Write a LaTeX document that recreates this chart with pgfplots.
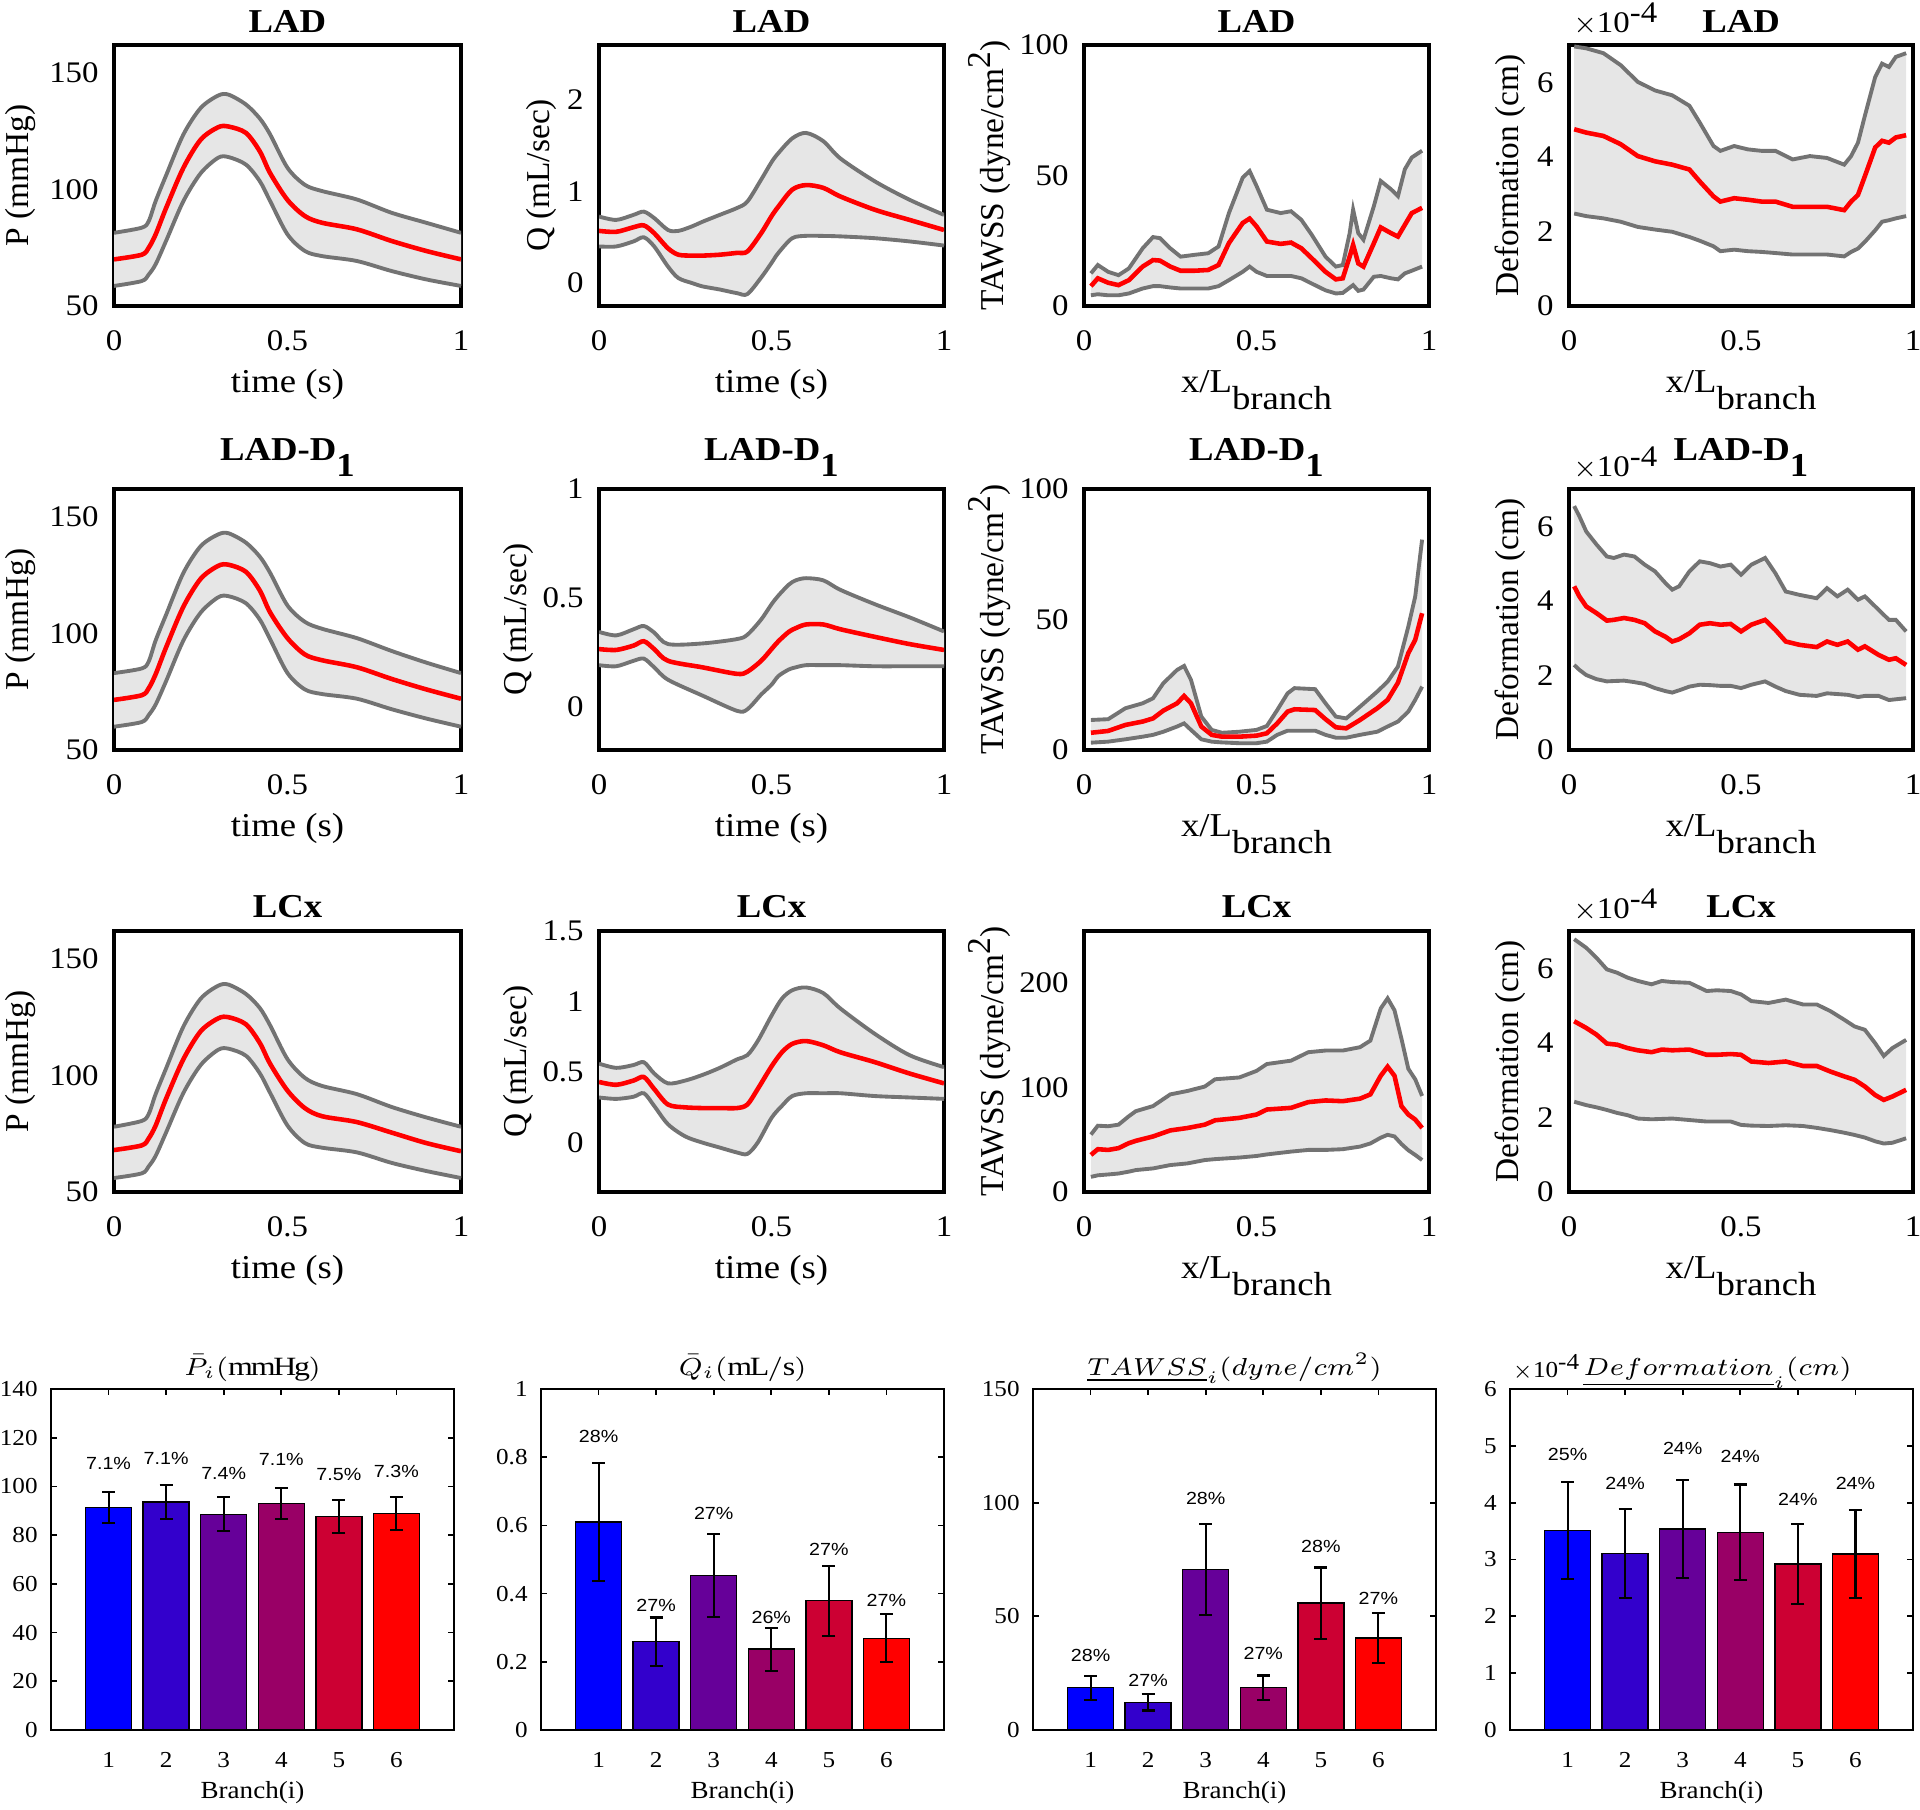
\documentclass[border=0pt]{standalone}
\usepackage{pgfplots}
\pgfplotsset{compat=1.18}
\usepackage{pgfplotstable}
\usepgfplotslibrary{fillbetween}
\usepackage{fontspec}
\setmainfont{Liberation Serif}[FakeStretch=1.1]
\newfontfamily\ylfont{Liberation Serif}
\newfontfamily\pctfont{Liberation Sans}[FakeStretch=1.12]

\definecolor{bandfill}{RGB}{230,230,230}
\definecolor{bandline}{RGB}{115,115,115}
\definecolor{cA}{RGB}{0,0,255}
\definecolor{cB}{RGB}{51,0,204}
\definecolor{cC}{RGB}{102,0,153}
\definecolor{cD}{RGB}{153,0,102}
\definecolor{cE}{RGB}{204,0,51}
\definecolor{cF}{RGB}{255,0,0}

% ---------------- Pressure ----------------
\pgfplotstableread{
x u m l
0 81.4 70 58.6
0.08 83.6 72 60.7
0.1 86.4 75 63.5
0.12 95 80.7 67.9
0.15 106 92 77.9
0.2 123.6 109.3 95
0.25 135 121.4 107
0.3 140.3 126.7 113.6
0.33 140.7 127 113.9
0.38 136.5 124.3 110.7
0.42 130.5 116.4 103.6
0.45 123.6 107 95
0.5 109.3 95.5 80.7
0.55 102 88.6 73.6
0.6 99.3 85.7 71.4
0.7 95.7 82.9 69.3
0.8 90 77.9 65
0.9 85.7 73.6 61.4
1 81.4 70 58.6
}\tPa
\pgfplotstableread{
x u m l
0 83 71.5 60
0.08 85 73.5 62
0.1 88 76.5 65
0.12 97 82.5 69.5
0.15 108 94 79.5
0.2 126 111.5 97
0.25 137.5 123.5 109
0.3 142.5 129 115.5
0.33 143 129.5 116
0.38 139 126.5 113
0.42 133 118.5 106
0.45 126 109 97.5
0.5 112 98 83
0.55 105 91 76
0.6 102 88.5 74
0.7 98 85.5 72
0.8 92.5 80.5 67.5
0.9 87.5 76 63.5
1 83 72 60
}\tPb
\pgfplotstableread{
x u m l
0 78 68 56
0.08 80.5 70 58
0.1 83.5 73 61
0.12 92 78.5 65.5
0.15 103 90 75.5
0.2 121 107 92.5
0.25 133 119 104.5
0.3 138.5 124.5 111
0.33 139 125 111.5
0.38 135 122 108.5
0.42 129 114 101
0.45 121.5 105 92.5
0.5 107 93.5 78.5
0.55 99 86 71
0.6 95.5 82.5 69
0.7 92 80 67
0.8 86.5 75.5 62.5
0.9 82 71 59
1 78 67.5 56
}\tPc

% ---------------- Flow ----------------
\pgfplotstableread{
x u m l
0 0.727 0.57 0.40
0.05 0.69 0.56 0.40
0.1 0.745 0.61 0.455
0.13 0.78 0.63 0.50
0.16 0.71 0.545 0.40
0.2 0.58 0.38 0.18
0.23 0.57 0.31 0.055
0.27 0.62 0.30 0.0
0.3 0.67 0.30 -0.036
0.35 0.745 0.31 -0.07
0.4 0.82 0.33 -0.11
0.43 0.89 0.345 -0.12
0.47 1.13 0.545 0.06
0.5 1.32 0.73 0.22
0.52 1.42 0.836 0.33
0.56 1.58 1.02 0.49
0.6 1.64 1.07 0.516
0.65 1.55 1.04 0.515
0.7 1.36 0.945 0.51
0.8 1.11 0.80 0.49
0.9 0.91 0.69 0.455
1 0.745 0.58 0.41
}\tQa
\pgfplotstableread{
x u m l
0 0.343 0.264 0.19
0.05 0.327 0.26 0.185
0.1 0.355 0.28 0.21
0.13 0.37 0.30 0.22
0.16 0.34 0.264 0.18
0.2 0.287 0.21 0.123
0.3 0.29 0.18 0.05
0.4 0.31 0.15 -0.02
0.43 0.33 0.16 -0.013
0.47 0.40 0.21 0.055
0.5 0.47 0.264 0.10
0.52 0.51 0.30 0.14
0.55 0.56 0.343 0.17
0.57 0.58 0.36 0.18
0.6 0.59 0.377 0.19
0.65 0.58 0.377 0.19
0.7 0.536 0.355 0.19
0.8 0.47 0.32 0.185
0.9 0.41 0.287 0.185
1 0.345 0.26 0.185
}\tQb
\pgfplotstableread{
x u m l
0 0.56 0.43 0.32
0.05 0.53 0.41 0.31
0.1 0.55 0.44 0.325
0.13 0.57 0.465 0.35
0.16 0.49 0.38 0.26
0.2 0.42 0.27 0.13
0.25 0.44 0.25 0.044
0.3 0.48 0.245 0.0
0.35 0.53 0.245 -0.035
0.4 0.59 0.245 -0.07
0.43 0.62 0.27 -0.08
0.46 0.72 0.38 0.0
0.5 0.90 0.54 0.175
0.53 1.02 0.64 0.26
0.56 1.08 0.70 0.33
0.6 1.10 0.72 0.35
0.65 1.06 0.69 0.35
0.7 0.95 0.64 0.35
0.8 0.77 0.57 0.33
0.9 0.62 0.49 0.32
1 0.535 0.42 0.31
}\tQc

% ---------------- TAWSS ----------------
\pgfplotstableread{
x u m l
0.02 12.5 7.6 4.1
0.04 15.7 10.6 4.5
0.07 13.1 8.9 4.1
0.1 11.8 8 4.1
0.13 14.4 9.9 4.8
0.17 22.1 15.1 6.7
0.2 26.4 17.6 7.6
0.22 26 17.4 7.6
0.25 22.1 15.1 7.1
0.28 18.9 13.5 6.7
0.32 19.6 13.5 6.7
0.36 20.2 13.8 6.7
0.39 22.8 15.7 7.6
0.42 35.6 24.1 9.9
0.46 49.2 31.8 13.1
0.48 51.7 33.5 15.1
0.5 46 30.5 13.1
0.53 36.9 24.7 11.5
0.57 35.6 23.8 11.5
0.6 36.3 24.3 11.5
0.63 33 22.1 10.6
0.66 27.3 18.3 8.6
0.7 18.9 13.1 6
0.73 15.1 10.2 4.8
0.75 15.7 10.6 5
0.77 27.9 18.9 7
0.78 36.9 23.4 8
0.795 27.9 16.3 5.8
0.81 25.4 15.1 6.3
0.84 38.2 24 11.2
0.86 47.9 30.1 11.5
0.89 44.7 27.9 10.6
0.91 42.1 26.6 10.2
0.93 52.4 31.1 12.5
0.95 56.9 35.6 13.5
0.98 59.5 37.6 15.1
}\tTa
\pgfplotstableread{
x u m l
0.02 11.5 6.6 2.8
0.07 11.8 7.3 3.2
0.12 16 9.6 4.1
0.17 17.9 10.9 5.1
0.2 19.8 12.1 5.8
0.23 25.6 15.1 7
0.27 30.7 17.9 9
0.29 32.2 20.7 10.2
0.31 26.9 17.9 7.7
0.34 12.8 9 4.1
0.37 7.7 5.8 3.2
0.4 6.6 5.1 2.9
0.45 7 5.1 2.6
0.5 7.7 5.5 2.6
0.53 9.2 6.4 3.2
0.56 15.3 10.2 5.8
0.59 21.7 14.7 7.4
0.61 23.7 15.6 7.4
0.67 23.3 15.3 7.4
0.7 17.9 11.8 5.8
0.73 12.8 8.7 4.7
0.76 12.1 8.3 4.7
0.8 16.6 11.5 5.8
0.85 22.4 16 7
0.88 26.2 19.2 9
0.91 32 25.8 10.9
0.94 47.3 37.1 14.7
0.96 58.8 42.2 19.2
0.98 80.6 52.4 24.3
}\tTb
\pgfplotstableread{
x u m l
0.02 55 35.5 14.5
0.04 63.5 41 16
0.07 63 40.3 16.8
0.1 64.5 42 17.7
0.13 72.6 46.8 19.5
0.15 77.4 49 21
0.2 82.3 53.2 22.6
0.25 93.5 59 25.8
0.3 96.8 61.3 27.4
0.35 101 64.5 30.6
0.38 108 68.7 31.5
0.45 109.7 71 33
0.5 116 74.2 34.5
0.53 122.6 79 36
0.6 125.8 80.6 38.7
0.65 133.9 86.1 40.3
0.7 135.5 87.7 40.3
0.75 135.5 87 41
0.8 138.7 89.4 43.5
0.83 145 93.5 46.5
0.86 175.8 111.3 52
0.88 185.5 120 54.8
0.9 174 111.3 53.2
0.92 147 82.3 46
0.94 118 74.2 40
0.96 108 69.4 35.5
0.98 92 61.3 30.6
}\tTc

% ---------------- Deformation (x 1e-4 cm) ----------------
\pgfplotstableread{
x u m l
0.015 6.96 4.74 2.48
0.05 6.91 4.65 2.41
0.1 6.78 4.56 2.35
0.15 6.46 4.34 2.26
0.2 6.01 4.02 2.12
0.25 5.78 3.88 2.05
0.3 5.65 3.79 1.99
0.35 5.37 3.66 1.85
0.38 4.92 3.34 1.75
0.42 4.29 2.94 1.6
0.44 4.16 2.80 1.47
0.48 4.29 2.89 1.51
0.52 4.2 2.85 1.47
0.56 4.16 2.80 1.45
0.6 4.16 2.80 1.42
0.65 3.93 2.66 1.38
0.7 4.02 2.66 1.38
0.75 3.97 2.66 1.38
0.8 3.79 2.57 1.33
0.82 4.02 2.8 1.45
0.84 4.38 2.98 1.54
0.86 5.1 3.48 1.72
0.89 6.14 4.25 2.03
0.91 6.5 4.43 2.26
0.93 6.41 4.38 2.3
0.95 6.68 4.52 2.35
0.98 6.78 4.58 2.41
}\tDa
\pgfplotstableread{
x u m l
0.015 6.54 4.39 2.28
0.03 6.27 4.12 2.15
0.05 5.86 3.85 2.01
0.08 5.51 3.67 1.9
0.11 5.19 3.47 1.84
0.13 5.15 3.49 1.85
0.16 5.24 3.54 1.86
0.19 5.19 3.49 1.82
0.22 4.97 3.40 1.77
0.25 4.79 3.18 1.66
0.28 4.48 3.04 1.58
0.3 4.30 2.91 1.54
0.32 4.39 2.97 1.6
0.35 4.79 3.13 1.70
0.38 5.06 3.36 1.75
0.41 5.01 3.40 1.74
0.44 4.92 3.36 1.72
0.47 4.97 3.38 1.72
0.5 4.70 3.18 1.66
0.53 4.97 3.36 1.75
0.57 5.15 3.49 1.84
0.6 4.74 3.22 1.7
0.63 4.25 2.91 1.58
0.67 4.16 2.82 1.48
0.72 4.07 2.76 1.45
0.75 4.34 2.91 1.52
0.78 4.12 2.82 1.5
0.81 4.30 2.91 1.48
0.84 4.03 2.69 1.42
0.86 4.12 2.78 1.45
0.9 3.76 2.55 1.45
0.93 3.49 2.42 1.34
0.95 3.49 2.46 1.36
0.98 3.18 2.28 1.39
}\tDb
\pgfplotstableread{
x u m l
0.015 6.78 4.58 2.42
0.05 6.55 4.40 2.33
0.08 6.28 4.22 2.27
0.11 5.97 3.98 2.20
0.14 5.88 3.95 2.12
0.17 5.75 3.86 2.06
0.2 5.66 3.80 1.97
0.24 5.57 3.75 1.95
0.27 5.66 3.82 1.96
0.3 5.63 3.80 1.97
0.35 5.61 3.82 1.93
0.4 5.39 3.68 1.89
0.43 5.41 3.68 1.89
0.47 5.39 3.70 1.89
0.5 5.30 3.68 1.80
0.53 5.12 3.50 1.78
0.58 5.07 3.46 1.77
0.63 5.16 3.50 1.79
0.68 5.03 3.38 1.77
0.72 5.03 3.38 1.72
0.76 4.85 3.23 1.66
0.8 4.62 3.10 1.59
0.83 4.44 3.01 1.53
0.86 4.35 2.83 1.46
0.89 3.99 2.60 1.36
0.915 3.65 2.47 1.30
0.94 3.86 2.56 1.32
0.98 4.08 2.74 1.44
}\tDc

\newcommand{\band}[2][]{%
  \addplot[draw=none, name path=U, #1] table[x=x,y=u]{#2};
  \addplot[draw=none, name path=L, #1] table[x=x,y=l]{#2};
  \addplot[fill=bandfill, draw=none] fill between[of=U and L];
  \addplot[bandline, line width=1.1pt, #1] table[x=x,y=u]{#2};
  \addplot[bandline, line width=1.1pt, #1] table[x=x,y=l]{#2};
  \addplot[red, line width=1.3pt, #1] table[x=x,y=m]{#2};
}
\newcommand{\onebar}[4]{%
  \addplot[fill=#1, bstyle] coordinates {(#2,#3) +- (0,#4)};
}
\newcommand{\tenfour}[1]{$\times$10\raisebox{#1}{-4}}
\newcommand{\btitle}[1]{\scalebox{1.1}[1]{#1}}

\tikzset{pct/.style={font=\pctfont\fontsize{5}{6}\selectfont, inner sep=0pt}}

\pgfplotsset{
  lp/.style={scale only axis, height=26.1mm, anchor=south west,
    xmin=0, xmax=1, xtick={0,0.5,1},
    clip mode=individual,
    axis line style={line width=1.4pt},
    major tick length=0pt,
    /pgf/number format/assume math mode=true,
    tick label style={font=\fontsize{8.5}{10}\selectfont},
    xticklabel style={yshift=-1.2mm},
    yticklabel style={xshift=-0.3mm},
    xlabel style={font=\fontsize{9.5}{11}\selectfont, at={(axis description cs:0.5,-0.33)}, anchor=base},
    every axis title shift=0pt,
    title style={font=\fontsize{9.5}{11}\selectfont\bfseries,
      at={(axis description cs:0.5,1)}, anchor=south, yshift=1.2mm, inner sep=0pt}},
  c1/.style={lp, width=34.7mm, ymin=50, ymax=162, ytick={50,100,150},
    xlabel={time (s)}, ylabel={P (mmHg)},
    ylabel style={font=\ylfont\fontsize{9.5}{11}\selectfont, at={(axis description cs:-0.268,0.5)}, anchor=center}},
  c2/.style={lp, width=34.5mm, xlabel={time (s)}, ylabel={Q (mL/sec)},
    ylabel style={font=\ylfont\fontsize{9.5}{11}\selectfont, at={(axis description cs:-0.168,0.5)}, anchor=center}},
  c3/.style={lp, width=34.5mm, xlabel={x/L\raisebox{-1.7mm}{branch}},
    ylabel={TAWSS (dyne/cm\raisebox{1.3mm}{2})},
    ylabel style={font=\ylfont\fontsize{9.5}{11}\selectfont, at={(axis description cs:-0.274,0.5)}, anchor=center}},
  c4/.style={lp, width=34.4mm, xlabel={x/L\raisebox{-1.7mm}{branch}},
    ymin=0, ymax=7, ytick={0,2,4,6}, ylabel={Deformation (cm)},
    ylabel style={font=\ylfont\fontsize{9.5}{11}\selectfont, at={(axis description cs:-0.172,0.5)}, anchor=center}},
  bp/.style={scale only axis, width=40.3mm, height=34.1mm, anchor=south west,
    xmin=0, xmax=7, xtick={1,2,3,4,5,6}, ymin=0,
    clip mode=individual,
    axis line style={line width=0.6pt},
    tick align=inside, tick pos=both, major tick length=0.6mm,
    tick style={black, line width=0.5pt},
    /pgf/number format/assume math mode=true,
    tick label style={font=\fontsize{6.5}{7.5}\selectfont},
    xticklabel style={yshift=-1.0mm},
    yticklabel style={xshift=-0.1mm},
    xlabel={Branch(i)},
    xlabel style={font=\fontsize{7}{8.5}\selectfont, at={(axis description cs:0.5,-0.2)}, anchor=base},
    every axis title shift=0pt,
    title style={font=\fontsize{7.5}{9}\selectfont, at={(axis description cs:0.5,1.041)}, anchor=base}},
  bstyle/.style={ybar, bar width=0.8, bar shift=0pt, draw=black, line width=0.4pt,
    error bars/.cd, y dir=both, y explicit,
    error bar style={line width=0.6pt, black},
    error mark options={rotate=90, mark size=0.65mm, line width=0.6pt, black}},
}

\begin{document}
\begin{tikzpicture}

% ===== Row 1: LAD =====
\begin{axis}[c1, at={(11.4mm,150.3mm)}, title={LAD}]
\band[smooth]{\tPa}
\end{axis}
\begin{axis}[c2, at={(59.9mm,150.3mm)}, title={LAD}, ymin=-0.25, ymax=2.6, ytick={0,1,2}]
\band[smooth]{\tQa}
\end{axis}
\begin{axis}[c3, at={(108.4mm,150.3mm)}, title={LAD}, ymin=0, ymax=100, ytick={0,50,100}]
\band{\tTa}
\end{axis}
\begin{axis}[c4, at={(156.9mm,150.3mm)}, title={LAD}]
\band{\tDa}
\node[anchor=south west, inner sep=0pt, font=\fontsize{8.5}{10}\selectfont] at (rel axis cs:0,1) [xshift=0.4mm, yshift=0.9mm] {\tenfour{1.0mm}};
\end{axis}

% ===== Row 2: LAD-D1 =====
\begin{axis}[c1, at={(11.4mm,105.9mm)}, title={LAD-D\raisebox{-1.6mm}{1}}]
\band[smooth]{\tPb}
\end{axis}
\begin{axis}[c2, at={(59.9mm,105.9mm)}, title={LAD-D\raisebox{-1.6mm}{1}}, ymin=-0.2, ymax=1, ytick={0,0.5,1},
  ylabel style={at={(axis description cs:-0.232,0.5)}}]
\band[smooth]{\tQb}
\end{axis}
\begin{axis}[c3, at={(108.4mm,105.9mm)}, title={LAD-D\raisebox{-1.6mm}{1}}, ymin=0, ymax=100, ytick={0,50,100}]
\band{\tTb}
\end{axis}
\begin{axis}[c4, at={(156.9mm,105.9mm)}, title={LAD-D\raisebox{-1.6mm}{1}}]
\band{\tDb}
\node[anchor=south west, inner sep=0pt, font=\fontsize{8.5}{10}\selectfont] at (rel axis cs:0,1) [xshift=0.4mm, yshift=0.9mm] {\tenfour{1.0mm}};
\end{axis}

% ===== Row 3: LCx =====
\begin{axis}[c1, at={(11.4mm,61.7mm)}, title={LCx}]
\band[smooth]{\tPc}
\end{axis}
\begin{axis}[c2, at={(59.9mm,61.7mm)}, title={LCx}, ymin=-0.35, ymax=1.5, ytick={0,0.5,1,1.5},
  ylabel style={at={(axis description cs:-0.232,0.5)}}]
\band[smooth]{\tQc}
\end{axis}
\begin{axis}[c3, at={(108.4mm,61.7mm)}, title={LCx}, ymin=0, ymax=250, ytick={0,100,200}]
\band{\tTc}
\end{axis}
\begin{axis}[c4, at={(156.9mm,61.7mm)}, title={LCx}]
\band{\tDc}
\node[anchor=south west, inner sep=0pt, font=\fontsize{8.5}{10}\selectfont] at (rel axis cs:0,1) [xshift=0.4mm, yshift=0.9mm] {\tenfour{1.0mm}};
\end{axis}

% ===== Row 4: bar charts =====
\begin{axis}[bp, at={(5.1mm,7.9mm)}, ymax=140, ytick={0,20,...,140},
  title={\btitle{$\bar{P}_i\mathrm{(mmHg)}$}}]
\onebar{cA}{1}{91.4}{6.3}
\onebar{cB}{2}{93.6}{7.0}
\onebar{cC}{3}{88.6}{6.9}
\onebar{cD}{4}{93.0}{6.5}
\onebar{cE}{5}{87.7}{6.7}
\onebar{cF}{6}{89.0}{6.8}
\node[pct] at (axis cs:1,109.6) {7.1\%};
\node[pct] at (axis cs:2,111.6) {7.1\%};
\node[pct] at (axis cs:3,105.5) {7.4\%};
\node[pct] at (axis cs:4,111.0) {7.1\%};
\node[pct] at (axis cs:5,104.8) {7.5\%};
\node[pct] at (axis cs:6,106.2) {7.3\%};
\end{axis}

\begin{axis}[bp, at={(54.1mm,7.9mm)}, ymax=1, ytick={0,0.2,0.4,0.6,0.8,1},
  title={\btitle{$\bar{Q}_i\mathrm{(mL/s)}$}}]
\onebar{cA}{1}{0.610}{0.172}
\onebar{cB}{2}{0.259}{0.071}
\onebar{cC}{3}{0.453}{0.122}
\onebar{cD}{4}{0.237}{0.063}
\onebar{cE}{5}{0.379}{0.102}
\onebar{cF}{6}{0.269}{0.070}
\node[pct] at (axis cs:1,0.861) {28\%};
\node[pct] at (axis cs:2,0.365) {27\%};
\node[pct] at (axis cs:3,0.634) {27\%};
\node[pct] at (axis cs:4,0.331) {26\%};
\node[pct] at (axis cs:5,0.531) {27\%};
\node[pct] at (axis cs:6,0.380) {27\%};
\end{axis}

\begin{axis}[bp, at={(103.3mm,7.9mm)}, ymax=150, ytick={0,50,100,150},
  title={\btitle{$\underline{TAWSS}_i(dyne/cm^2)$}}]
\onebar{cA}{1}{18.6}{5.3}
\onebar{cB}{2}{12.2}{3.6}
\onebar{cC}{3}{70.5}{20}
\onebar{cD}{4}{18.6}{5.4}
\onebar{cE}{5}{55.8}{15.7}
\onebar{cF}{6}{40.4}{10.9}
\node[pct] at (axis cs:1,33.0) {28\%};
\node[pct] at (axis cs:2,21.6) {27\%};
\node[pct] at (axis cs:3,101.7) {28\%};
\node[pct] at (axis cs:4,33.8) {27\%};
\node[pct] at (axis cs:5,80.7) {28\%};
\node[pct] at (axis cs:6,58.0) {27\%};
\end{axis}

\begin{axis}[bp, at={(151.0mm,7.9mm)}, ymax=6, ytick={0,1,2,3,4,5,6},
  title style={font=\fontsize{6.6}{8}\selectfont, xshift=0.6mm},
  title={\btitle{$\underline{Deformation}_i(cm)$}}]
\onebar{cA}{1}{3.51}{0.86}
\onebar{cB}{2}{3.11}{0.78}
\onebar{cC}{3}{3.54}{0.86}
\onebar{cD}{4}{3.48}{0.84}
\onebar{cE}{5}{2.92}{0.70}
\onebar{cF}{6}{3.10}{0.77}
\node[pct] at (axis cs:1,4.85) {25\%};
\node[pct] at (axis cs:2,4.34) {24\%};
\node[pct] at (axis cs:3,4.96) {24\%};
\node[pct] at (axis cs:4,4.82) {24\%};
\node[pct] at (axis cs:5,4.05) {24\%};
\node[pct] at (axis cs:6,4.34) {24\%};
\node[anchor=south west, inner sep=0pt, font=\fontsize{6.5}{7.5}\selectfont] at (rel axis cs:0,1) [xshift=0.2mm, yshift=0.8mm] {\tenfour{0.8mm}};
\end{axis}

\pgfresetboundingbox
\path[use as bounding box] (0,0) rectangle (192mm,180.9mm);
\end{tikzpicture}
\end{document}
